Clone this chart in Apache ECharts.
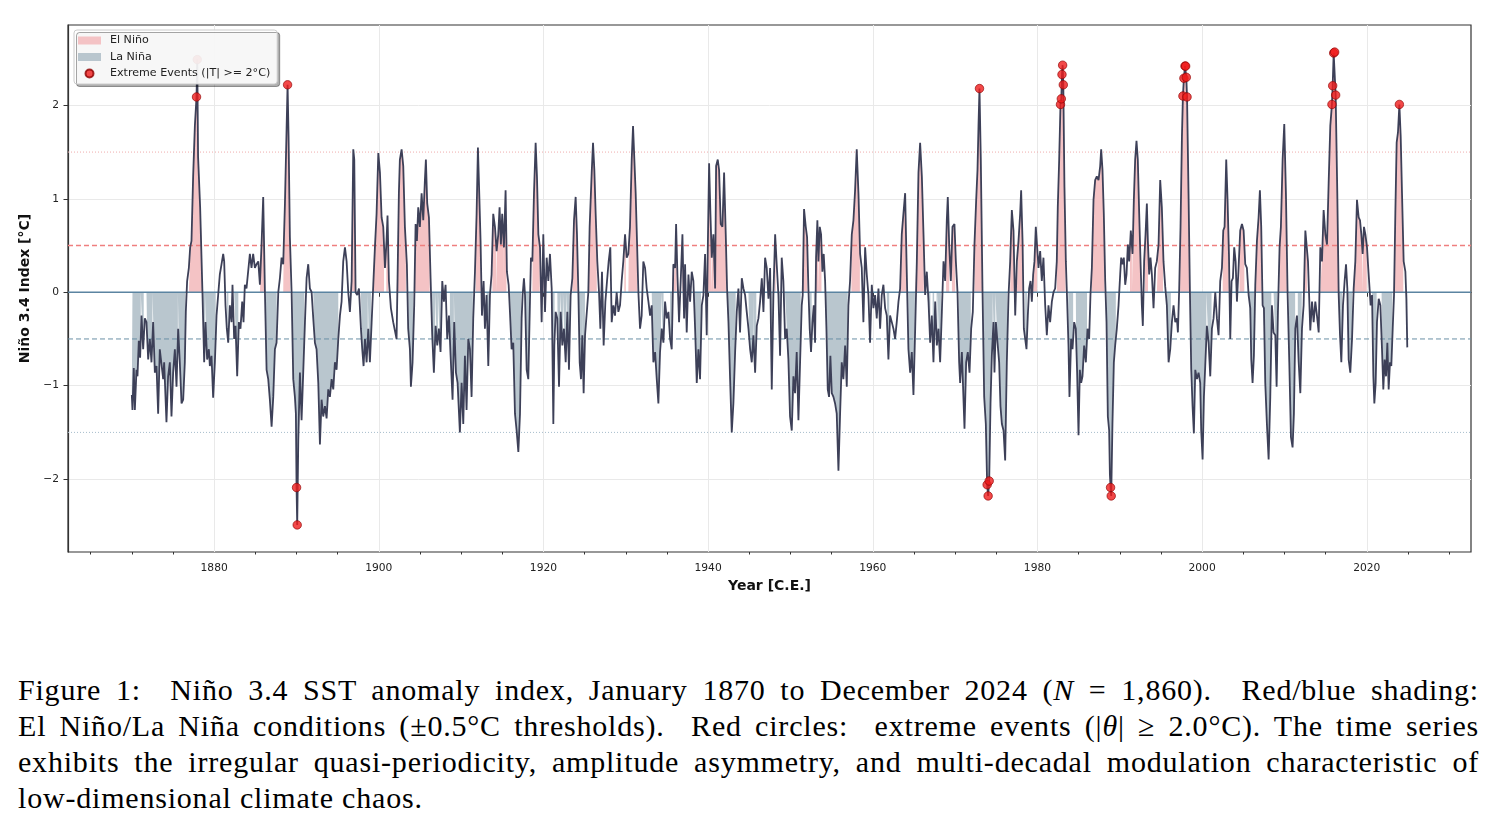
<!DOCTYPE html>
<html>
<head>
<meta charset="utf-8">
<title>Niño 3.4 SST anomaly index</title>
<script src="https://cdn.jsdelivr.net/npm/echarts@6/dist/echarts.min.js"></script>
<style>
  html, body { margin: 0; padding: 0; background: #fff; }
  #wrap { position: relative; width: 1495px; height: 830px; overflow: hidden; }
  #chart { position: absolute; left: 0; top: 0; width: 1495px; height: 620px; }
  #caption { position: absolute; left: 18px; top: 672px; width: 1461px; font-family: 'Liberation Serif', serif; font-size: 30px; letter-spacing: 0.8px; line-height: 36px; color: #000; }
  #caption div { white-space: nowrap; text-align: justify; text-align-last: justify; }
  #caption div.last { text-align-last: left; }
</style>
</head>
<body>
<div id="wrap">
  <div id="chart"></div>
  <div id="caption">
    <div>Figure 1:&nbsp; Niño 3.4 SST anomaly index, January 1870 to December 2024 (<i>N</i> = 1,860).&nbsp; Red/blue shading:</div>
    <div>El Niño/La Niña conditions (±0.5°C thresholds).&nbsp; Red circles:&nbsp; extreme events (|<i>θ</i>| ≥ 2.0°C). The time series</div>
    <div>exhibits the irregular quasi-periodicity, amplitude asymmetry, and multi-decadal modulation characteristic of</div>
    <div class="last">low-dimensional climate chaos.</div>
  </div>
</div>
<script>
// Niño 3.4 anomaly [year, °C] (turning points)
const nino34 = [
  [1870.00,-1.10],[1870.08,-1.26],[1870.24,-0.81],[1870.37,-1.26],[1870.57,-0.83],[1870.69,-0.90],[1870.85,-0.52],[1871.01,-0.70],
  [1871.18,-0.25],[1871.38,-0.61],[1871.58,-0.28],[1871.78,-0.32],[1871.99,-0.72],[1872.19,-0.50],[1872.39,-0.75],[1872.59,-0.32],
  [1872.80,-0.86],[1873.00,-0.79],[1873.20,-1.30],[1873.40,-0.61],[1873.61,-0.61],[1873.81,-0.93],[1873.93,-0.75],[1874.21,-1.39],
  [1874.41,-0.90],[1874.62,-0.75],[1874.82,-1.33],[1875.02,-0.86],[1875.23,-0.61],[1875.43,-1.01],[1875.63,-0.39],[1875.83,-0.75],
  [1876.04,-1.19],[1876.24,-1.15],[1876.44,-0.75],[1876.56,-0.21],[1876.72,0.12],[1876.93,0.26],[1877.09,0.48],[1877.25,0.55],
  [1877.45,1.24],[1877.66,1.78],[1877.86,2.09],[1877.95,2.49],[1878.05,1.45],[1878.30,0.91],[1878.46,0.93],[1878.58,0.00],
  [1878.79,-0.75],[1878.95,-0.32],[1879.15,-0.72],[1879.36,-0.61],[1879.48,-0.79],[1879.68,-0.68],[1879.88,-1.13],[1880.09,-0.75],
  [1880.29,-0.25],[1880.49,-0.03],[1880.69,0.19],[1880.90,0.30],[1881.10,0.41],[1881.22,0.33],[1881.38,-0.14],[1881.54,-0.39],
  [1881.71,-0.54],[1881.91,-0.14],[1882.11,-0.32],[1882.23,0.08],[1882.43,-0.50],[1882.60,-0.36],[1882.80,-0.90],[1883.00,-0.32],
  [1883.20,-0.39],[1883.41,-0.10],[1883.57,-0.32],[1883.73,0.08],[1883.93,0.04],[1884.14,0.04],[1884.34,0.41],[1884.54,0.26],
  [1884.74,0.41],[1884.95,0.26],[1885.15,0.30],[1885.36,0.33],[1885.56,0.08],[1885.76,0.51],[1885.96,1.02],[1886.17,0.00],
  [1886.37,-0.83],[1886.57,-0.93],[1886.77,-1.15],[1886.98,-1.44],[1887.18,-1.12],[1887.38,-0.61],[1887.58,-0.54],[1887.79,0.00],
  [1887.99,0.15],[1888.19,0.37],[1888.39,0.30],[1888.60,0.95],[1888.80,1.75],[1888.92,2.22],[1889.04,1.67],[1889.20,0.59],
  [1889.41,0.00],[1889.61,-0.93],[1889.81,-1.12],[1889.93,-1.30],[1890.01,-2.09],[1890.09,-2.49],[1890.22,-1.59],[1890.42,-0.86],
  [1890.62,-1.37],[1890.82,-0.86],[1891.03,-0.32],[1891.23,0.15],[1891.43,0.30],[1891.63,0.04],[1891.84,0.00],[1892.04,-0.28],
  [1892.24,-0.54],[1892.44,-0.61],[1892.65,-0.97],[1892.85,-1.63],[1893.05,-1.15],[1893.25,-1.33],[1893.46,-1.22],[1893.66,-1.35],
  [1893.86,-1.04],[1894.06,-1.12],[1894.27,-0.93],[1894.47,-1.04],[1894.67,-0.75],[1894.87,-0.83],[1895.08,-0.50],[1895.28,-0.25],
  [1895.48,-0.10],[1895.68,0.33],[1895.89,0.48],[1896.09,0.33],[1896.29,0.00],[1896.49,-0.21],[1896.70,0.12],[1896.90,1.53],
  [1897.02,1.42],[1897.18,0.00],[1897.38,-0.03],[1897.59,0.04],[1897.83,-0.39],[1897.99,-0.61],[1898.15,-0.79],[1898.32,-0.50],
  [1898.52,-0.75],[1898.72,-0.39],[1898.92,-0.75],[1899.13,-0.32],[1899.33,0.08],[1899.53,0.48],[1899.73,0.84],[1899.94,1.49],
  [1900.14,1.28],[1900.34,0.80],[1900.54,0.70],[1900.75,0.26],[1900.94,0.55],[1901.06,0.82],[1901.23,0.12],[1901.47,-0.17],
  [1901.75,-0.32],[1901.96,-0.32],[1902.16,-0.50],[1902.28,0.15],[1902.44,1.06],[1902.56,1.42],[1902.77,1.53],[1902.97,1.35],
  [1903.17,0.70],[1903.41,0.30],[1903.57,-0.39],[1903.78,-0.61],[1903.90,-1.01],[1904.10,-0.75],[1904.30,-0.14],[1904.47,0.73],
  [1904.63,0.55],[1904.79,0.91],[1904.99,0.70],[1905.20,1.06],[1905.40,0.77],[1905.60,1.20],[1905.72,1.42],[1905.88,0.95],
  [1906.09,0.80],[1906.29,0.15],[1906.49,-0.46],[1906.69,-0.86],[1906.90,-0.36],[1907.10,-0.57],[1907.30,-0.39],[1907.50,-0.64],
  [1907.71,0.12],[1907.91,-0.10],[1908.11,0.08],[1908.31,-0.50],[1908.52,-0.25],[1908.72,-0.68],[1908.96,-1.15],[1909.16,-0.32],
  [1909.37,-0.86],[1909.57,-0.97],[1909.85,-1.50],[1910.06,-0.97],[1910.26,-1.41],[1910.46,-0.68],[1910.66,-1.26],[1910.87,-0.50],
  [1911.07,-0.61],[1911.27,-1.12],[1911.47,-0.28],[1911.68,0.22],[1911.88,0.84],[1912.04,1.55],[1912.20,1.06],[1912.36,0.55],
  [1912.53,-0.25],[1912.73,0.12],[1912.89,-0.39],[1913.09,-0.03],[1913.30,-0.79],[1913.50,-0.03],[1913.70,0.19],[1913.90,0.84],
  [1914.11,0.70],[1914.31,0.44],[1914.51,0.62],[1914.67,0.91],[1914.83,0.51],[1914.99,0.84],[1915.20,0.48],[1915.40,1.09],
  [1915.56,0.22],[1915.77,0.08],[1915.93,-0.21],[1916.13,-0.61],[1916.33,-0.54],[1916.54,-1.30],[1916.74,-1.48],[1916.95,-1.71],
  [1917.15,-1.30],[1917.35,-0.28],[1917.47,-0.03],[1917.63,0.15],[1917.76,-0.03],[1917.96,-0.83],[1918.16,-0.93],[1918.36,-0.10],
  [1918.48,0.37],[1918.65,0.33],[1918.85,1.06],[1919.05,1.60],[1919.21,1.24],[1919.38,0.62],[1919.58,0.48],[1919.78,-0.32],
  [1919.98,0.62],[1920.19,-0.21],[1920.39,0.37],[1920.59,0.12],[1920.79,0.41],[1921.00,0.04],[1921.20,-1.41],[1921.32,-0.57],
  [1921.48,-0.21],[1921.68,-0.28],[1921.89,-1.01],[1922.09,-0.21],[1922.29,-0.57],[1922.49,-0.39],[1922.70,-0.75],[1922.90,-0.21],
  [1923.10,-0.83],[1923.30,-0.03],[1923.51,0.15],[1923.71,0.77],[1923.91,1.02],[1924.07,0.62],[1924.24,0.00],[1924.40,-0.75],
  [1924.56,-0.93],[1924.72,-0.46],[1924.88,-1.08],[1925.05,-0.46],[1925.25,-0.46],[1925.45,0.00],[1925.61,0.70],[1925.86,1.28],
  [1926.02,1.60],[1926.18,1.31],[1926.34,0.84],[1926.54,0.33],[1926.75,0.00],[1926.91,-0.39],[1927.11,0.22],[1927.31,-0.57],
  [1927.52,-0.10],[1927.72,0.12],[1927.92,0.33],[1928.12,0.48],[1928.29,-0.32],[1928.49,-0.14],[1928.69,-0.25],[1928.89,0.00],
  [1929.10,-0.21],[1929.30,-0.14],[1929.50,0.12],[1929.70,0.33],[1929.91,0.62],[1930.11,0.37],[1930.31,0.41],[1930.51,0.70],
  [1930.72,1.42],[1930.88,1.78],[1931.04,1.42],[1931.20,1.06],[1931.36,0.55],[1931.53,0.00],[1931.73,-0.39],[1931.93,-0.25],
  [1932.13,0.33],[1932.34,0.26],[1932.54,0.04],[1932.75,-0.10],[1932.95,-0.25],[1933.15,-0.14],[1933.35,-0.75],[1933.56,-0.64],
  [1933.76,-0.93],[1933.96,-1.19],[1934.16,-0.64],[1934.37,-0.39],[1934.57,-0.54],[1934.77,-0.10],[1934.97,-0.28],[1935.18,-0.21],
  [1935.38,-0.50],[1935.58,-0.61],[1935.78,0.30],[1935.99,0.26],[1936.11,0.73],[1936.27,0.19],[1936.47,-0.32],[1936.67,0.12],
  [1936.88,0.62],[1937.08,-0.28],[1937.20,0.30],[1937.40,-0.43],[1937.61,0.19],[1937.81,-0.10],[1938.01,0.22],[1938.21,0.12],
  [1938.42,-0.39],[1938.62,-0.97],[1938.82,-0.61],[1939.02,-0.93],[1939.23,-0.14],[1939.43,-0.03],[1939.63,0.41],[1939.83,-0.46],
  [1939.95,0.41],[1940.12,1.38],[1940.28,0.84],[1940.44,0.37],[1940.64,0.62],[1940.85,0.04],[1940.97,1.35],[1941.17,1.42],
  [1941.33,1.31],[1941.53,0.73],[1941.74,0.70],[1941.94,1.28],[1942.14,0.62],[1942.30,0.04],[1942.47,-0.32],[1942.67,-0.93],
  [1942.87,-1.50],[1943.07,-1.19],[1943.28,-0.64],[1943.48,-0.21],[1943.68,0.04],[1943.88,-0.43],[1944.09,0.15],[1944.29,0.04],
  [1944.49,-0.03],[1944.69,-0.21],[1944.90,-0.39],[1945.10,-0.61],[1945.30,-0.75],[1945.50,-0.46],[1945.71,-0.86],[1945.91,-0.36],
  [1946.11,-0.28],[1946.31,-0.10],[1946.52,0.15],[1946.72,-0.21],[1946.92,0.37],[1947.12,0.26],[1947.33,-0.07],[1947.53,0.26],
  [1947.73,-1.04],[1947.93,-0.03],[1948.14,0.62],[1948.33,0.30],[1948.54,-0.03],[1948.74,-0.68],[1948.94,0.37],[1949.14,0.12],
  [1949.35,-0.50],[1949.55,-0.39],[1949.75,-0.72],[1949.95,-1.33],[1950.16,-1.48],[1950.36,-0.90],[1950.56,-1.08],[1950.76,-0.64],
  [1950.97,-1.37],[1951.17,-0.75],[1951.37,-0.14],[1951.49,-0.03],[1951.65,0.89],[1951.86,0.70],[1952.02,0.59],[1952.18,0.04],
  [1952.34,-0.39],[1952.50,-0.64],[1952.67,-0.32],[1952.83,-0.14],[1952.99,-0.54],[1953.11,0.37],[1953.27,0.77],[1953.40,0.33],
  [1953.56,0.70],[1953.72,0.62],[1953.88,0.22],[1954.04,0.41],[1954.21,0.12],[1954.37,-0.39],[1954.53,-1.04],[1954.69,-1.12],
  [1954.85,-0.68],[1955.02,-1.08],[1955.22,-1.12],[1955.42,-1.19],[1955.62,-1.30],[1955.83,-1.91],[1956.03,-1.30],[1956.23,-0.75],
  [1956.43,-0.93],[1956.64,-0.57],[1956.84,-1.01],[1957.04,-0.14],[1957.24,0.12],[1957.45,0.62],[1957.65,0.77],[1957.85,1.09],
  [1958.05,1.53],[1958.26,1.06],[1958.46,0.41],[1958.66,0.26],[1958.86,-0.32],[1959.07,0.48],[1959.27,0.19],[1959.47,-0.03],
  [1959.67,-0.54],[1959.88,0.08],[1960.08,-0.17],[1960.28,-0.03],[1960.48,-0.28],[1960.69,0.04],[1960.89,-0.39],[1961.09,-0.03],
  [1961.29,0.08],[1961.50,-0.17],[1961.70,-0.25],[1961.90,-0.72],[1962.10,-0.25],[1962.31,-0.32],[1962.51,-0.39],[1962.71,-0.50],
  [1962.91,-0.32],[1963.12,-0.10],[1963.32,0.04],[1963.52,0.62],[1963.72,0.84],[1963.93,1.06],[1964.13,0.20],[1964.33,-0.61],
  [1964.54,-0.86],[1964.74,-0.64],[1964.94,-1.10],[1965.15,-0.39],[1965.35,0.33],[1965.55,1.28],[1965.75,1.60],[1965.96,1.24],
  [1966.16,0.62],[1966.36,-0.03],[1966.56,0.22],[1966.77,-0.10],[1966.97,-0.54],[1967.17,-0.25],[1967.37,-0.75],[1967.58,-0.10],
  [1967.78,-0.57],[1967.98,-0.39],[1968.18,-0.75],[1968.39,-0.21],[1968.59,0.33],[1968.79,0.12],[1968.99,0.77],[1969.11,1.02],
  [1969.28,0.51],[1969.48,0.12],[1969.68,0.70],[1969.92,0.73],[1970.09,0.33],[1970.29,0.00],[1970.49,-0.75],[1970.61,-0.97],
  [1970.82,-0.64],[1971.14,-1.46],[1971.34,-0.75],[1971.54,-0.64],[1971.75,-0.86],[1971.95,-0.39],[1972.15,-0.21],[1972.35,0.51],
  [1972.56,0.99],[1972.72,1.31],[1972.84,1.78],[1972.96,2.18],[1973.12,1.42],[1973.33,0.00],[1973.53,-1.12],[1973.73,-1.41],
  [1973.89,-2.06],[1974.01,-2.18],[1974.14,-2.02],[1974.30,-1.19],[1974.46,-0.68],[1974.66,-0.32],[1974.78,-0.86],[1974.95,-0.32],
  [1975.15,-0.54],[1975.35,-0.75],[1975.51,-1.22],[1975.68,-1.41],[1975.88,-1.48],[1976.08,-1.80],[1976.28,-0.75],[1976.49,-0.03],
  [1976.69,0.33],[1976.89,0.88],[1977.09,0.66],[1977.30,-0.25],[1977.50,0.33],[1977.70,0.55],[1977.90,0.84],[1978.02,1.09],
  [1978.19,0.55],[1978.35,-0.39],[1978.51,-0.50],[1978.67,-0.61],[1978.83,-0.25],[1978.99,0.04],[1979.16,0.12],[1979.32,-0.10],
  [1979.48,0.19],[1979.64,0.33],[1979.80,0.70],[1980.13,0.26],[1980.33,0.44],[1980.53,0.12],[1980.73,0.37],[1980.94,-0.14],
  [1981.14,-0.46],[1981.34,-0.14],[1981.54,-0.32],[1981.75,-0.10],[1981.95,0.00],[1982.15,0.04],[1982.35,0.33],[1982.47,0.91],
  [1982.64,1.42],[1982.80,2.01],[1982.90,2.07],[1982.98,2.33],[1983.06,2.43],[1983.14,2.22],[1983.28,1.13],[1983.45,0.33],
  [1983.61,-0.10],[1983.77,-0.57],[1983.89,-1.12],[1984.09,-0.50],[1984.26,-0.61],[1984.46,-0.32],[1984.66,-0.39],[1984.82,-0.86],
  [1984.99,-1.53],[1985.15,-0.83],[1985.31,-0.97],[1985.47,-0.90],[1985.67,-0.57],[1985.88,-0.75],[1986.08,-0.39],[1986.28,-0.50],
  [1986.44,-0.03],[1986.61,0.26],[1986.81,0.99],[1987.01,1.20],[1987.21,1.24],[1987.42,1.20],[1987.62,1.35],[1987.74,1.53],
  [1987.90,1.31],[1988.06,0.84],[1988.23,0.12],[1988.39,-0.32],[1988.55,-1.33],[1988.71,-1.48],[1988.80,-1.95],[1988.88,-2.09],
  [1988.96,-2.18],[1989.11,-1.41],[1989.28,-0.75],[1989.44,-0.57],[1989.64,-0.39],[1989.85,-0.14],[1990.05,0.19],[1990.17,0.37],
  [1990.33,0.30],[1990.49,0.37],[1990.66,0.08],[1990.82,0.19],[1990.98,0.51],[1991.14,0.33],[1991.34,0.66],[1991.55,0.41],
  [1991.71,0.99],[1991.87,1.42],[1992.03,1.62],[1992.19,1.42],[1992.36,0.84],[1992.52,0.33],[1992.68,-0.14],[1992.80,-0.36],
  [1992.96,0.33],[1993.13,0.62],[1993.29,0.95],[1993.41,0.55],[1993.57,0.19],[1993.73,0.37],[1993.90,0.19],[1994.10,-0.17],
  [1994.30,0.26],[1994.50,0.33],[1994.71,0.51],[1994.91,1.20],[1995.11,0.91],[1995.31,0.33],[1995.52,0.06],[1995.72,-0.14],
  [1995.93,-0.75],[1996.13,-0.61],[1996.33,-0.32],[1996.53,-0.14],[1996.74,-0.32],[1996.94,-0.28],[1997.06,-0.43],[1997.22,0.04],
  [1997.38,0.70],[1997.55,1.67],[1997.67,2.10],[1997.79,2.29],[1997.92,2.42],[1998.00,2.42],[1998.08,2.30],[1998.17,2.09],
  [1998.35,1.06],[1998.52,0.00],[1998.68,-0.83],[1998.84,-1.22],[1999.00,-1.51],[1999.17,-0.83],[1999.37,-0.93],[1999.57,-0.86],
  [1999.77,-0.97],[1999.89,-1.48],[2000.06,-1.79],[2000.22,-1.12],[2000.38,-0.79],[2000.58,-0.36],[2000.79,-0.54],[2000.99,-0.90],
  [2001.19,-0.39],[2001.39,-0.28],[2001.60,0.00],[2001.80,-0.28],[2002.00,-0.46],[2002.20,0.12],[2002.41,0.26],[2002.57,0.66],
  [2002.73,0.70],[2002.93,1.42],[2003.09,0.99],[2003.26,0.41],[2003.42,-0.50],[2003.58,0.12],[2003.74,0.15],[2003.90,0.48],
  [2004.07,0.33],[2004.23,-0.10],[2004.43,0.26],[2004.63,0.66],[2004.84,0.73],[2005.04,0.66],[2005.24,0.30],[2005.44,0.26],
  [2005.65,-0.03],[2005.85,-0.17],[2005.97,-0.72],[2006.13,-0.97],[2006.29,-0.68],[2006.46,0.08],[2006.66,0.55],[2006.86,0.80],
  [2007.02,1.09],[2007.18,0.70],[2007.35,-0.14],[2007.51,-0.17],[2007.67,-0.97],[2007.87,-1.41],[2008.08,-1.79],[2008.28,-1.12],
  [2008.48,-0.14],[2008.68,-0.43],[2008.89,-0.46],[2009.05,-1.01],[2009.21,-0.21],[2009.41,0.48],[2009.57,0.70],[2009.78,1.42],
  [2009.98,1.80],[2010.18,1.06],[2010.38,0.00],[2010.59,-0.75],[2010.79,-1.55],[2010.99,-1.66],[2011.15,-1.30],[2011.32,-0.39],
  [2011.52,-0.25],[2011.73,-0.75],[2011.93,-1.08],[2012.13,-0.39],[2012.33,-0.14],[2012.54,0.66],[2012.66,0.67],[2012.86,0.33],
  [2013.14,-0.41],[2013.35,-0.10],[2013.55,-0.32],[2013.75,-0.10],[2013.95,-0.25],[2014.16,-0.43],[2014.36,0.48],[2014.56,0.33],
  [2014.76,0.88],[2014.97,0.62],[2015.17,0.51],[2015.37,1.17],[2015.57,1.78],[2015.77,2.01],[2015.86,2.21],[2015.98,2.56],
  [2016.10,2.57],[2016.22,2.11],[2016.42,1.06],[2016.59,-0.03],[2016.75,-0.46],[2016.91,-0.75],[2017.11,-0.14],[2017.31,0.12],
  [2017.48,0.30],[2017.64,0.04],[2017.80,-0.72],[2018.00,-0.86],[2018.21,-0.50],[2018.41,0.04],[2018.61,0.33],[2018.81,0.99],
  [2019.02,0.80],[2019.18,0.77],[2019.34,0.62],[2019.50,0.41],[2019.66,0.70],[2019.83,0.62],[2020.03,0.48],[2020.15,0.30],
  [2020.31,0.08],[2020.47,-0.14],[2020.64,-0.03],[2020.80,-0.90],[2020.92,-1.19],[2021.08,-0.97],[2021.24,-0.32],[2021.45,-0.07],
  [2021.65,-0.14],[2021.85,-0.61],[2022.01,-1.04],[2022.17,-0.72],[2022.34,-0.90],[2022.50,-0.54],[2022.66,-1.04],[2022.82,-0.75],
  [2022.98,-0.79],[2023.15,-0.39],[2023.31,-0.03],[2023.47,0.84],[2023.63,1.60],[2023.79,1.71],[2023.96,2.01],[2024.12,1.67],
  [2024.28,1.06],[2024.48,0.33],[2024.69,0.22],[2024.81,-0.07],[2024.92,-0.59]
];

const xTicks = [1880, 1900, 1920, 1940, 1960, 1980, 2000, 2020];
const xMinorTicks = [1865, 1870, 1875, 1885, 1890, 1895, 1905, 1910, 1915, 1925, 1930, 1935, 1945, 1950, 1955,
  1965, 1970, 1975, 1985, 1990, 1995, 2005, 2010, 2015, 2025, 2030];
const yTicks = [-2, -1, 0, 1, 2];
const xRange = [1862.25, 2032.66];

const elNinoLevel = 0.5;
const laNinaLevel = -0.5;
const strongLevel = 1.5;
const extremeLevel = 2.0;
const extremeName = 'Extreme Events (|T| >= 2°C)';

// area between 0 and the curve where the curve is beyond a threshold
const thresholdFill = (data, level, above) => {
    const inside = v => above ? v >= level : v <= level;
    const out = [];
    data.forEach(([t, v], i) => {
        if (i > 0) {
            const [t0, v0] = data[i - 1];
            if (inside(v0) !== inside(v)) {
                const tc = t0 + (level - v0) / (v - v0) * (t - t0);
                if (inside(v)) out.push([tc, 0], [tc, level]);
                else out.push([tc, level], [tc, 0]);
            }
        }
        out.push([t, inside(v) ? v : 0]);
    });
    return out;
};

// horizontal reference line spanning the whole x range
const refLine = (name, y, color, width, type) => ({
    name, type: 'line', data: [[xRange[0], y], [xRange[1], y]],
    symbol: 'none', silent: true, z: 3,
    lineStyle: { color, width, type },
    emphasis: { disabled: true }
});

const extremes = nino34.filter(p => Math.abs(p[1]) >= extremeLevel);

const font = 'DejaVu Sans';
const chart = echarts.init(document.getElementById('chart'));

chart.setOption({
    animation: false,
    grid: {
        left: 68, right: 24, top: 25, bottom: 68,
        show: true, borderColor: '#333', borderWidth: 1.2, backgroundColor: 'transparent'
    },
    legend: {
        data: [
            { name: 'El Niño', icon: 'rect', itemStyle: { borderWidth: 0 } },
            { name: 'La Niña', icon: 'rect', itemStyle: { borderWidth: 0 } },
            { name: extremeName, icon: 'circle' }
        ],
        orient: 'vertical', left: 74, top: 30,
        padding: [5, 7, 5, 4],
        itemWidth: 23, itemHeight: 8, itemGap: 5.5,
        backgroundColor: 'rgba(255,255,255,0.9)', borderColor: '#cccccc', borderWidth: 1, borderRadius: 3,
        shadowColor: 'rgba(0,0,0,0.35)', shadowBlur: 0, shadowOffsetX: 2.5, shadowOffsetY: 2.5,
        textStyle: { fontFamily: font, fontSize: 11.1, color: '#222', padding: [0, 0, 0, 4] },
        selectedMode: false, z: 10
    },
    xAxis: [
        {
            type: 'value', min: xRange[0], max: xRange[1], position: 'bottom',
            axisLine: { show: true, lineStyle: { color: '#333', width: 1.2 } },
            axisTick: { show: true, customValues: xTicks, length: 4.5, lineStyle: { color: '#333' } },
            axisLabel: {
                customValues: xTicks, fontFamily: font, fontSize: 10.7, color: '#222', margin: 11,
                formatter: v => String(v)
            },
            splitLine: { show: false },
            name: 'Year [C.E.]', nameLocation: 'middle', nameGap: 26,
            nameTextStyle: { fontFamily: font, fontSize: 14, fontWeight: 'bold', color: '#111' }
        },
        {
            type: 'value', min: xRange[0], max: xRange[1], position: 'bottom',
            axisLine: { show: false },
            axisTick: { show: true, customValues: xMinorTicks, length: 2.5, lineStyle: { color: '#333' } },
            axisLabel: { show: false },
            splitLine: { show: false }
        }
    ],
    yAxis: {
        type: 'value', min: -2.78, max: 2.86,
        axisLine: { show: true, lineStyle: { color: '#333', width: 1.2 } },
        axisTick: { show: true, customValues: yTicks, length: 4.5, lineStyle: { color: '#333' } },
        axisLabel: {
            customValues: yTicks, fontFamily: font, fontSize: 10.7, color: '#222', margin: 9,
            formatter: v => (v < 0 ? '\u2212' + Math.abs(v) : String(v))
        },
        splitLine: { show: false },
        name: 'Niño 3.4 Index [°C]', nameLocation: 'middle', nameGap: 30, nameRotate: 90,
        nameTextStyle: { fontFamily: font, fontSize: 14, fontWeight: 'bold', color: '#111' }
    },
    series: [
        {
            name: 'grid', type: 'line', data: [], silent: true,
            markLine: {
                z: 0, silent: true, symbol: 'none', label: { show: false },
                lineStyle: { color: '#e9e9e9', width: 1, type: 'solid' },
                data: xTicks.map(x => ({ xAxis: x })).concat(yTicks.filter(y => y !== 0).map(y => ({ yAxis: y })))
            }
        },
        {
            name: 'El Niño', type: 'line', data: thresholdFill(nino34, elNinoLevel, true),
            symbol: 'none', silent: true, z: 2,
            lineStyle: { width: 0, opacity: 0 },
            itemStyle: { color: '#f4c3c5' },
            areaStyle: { color: '#f4c3c5', opacity: 1, origin: 0 }
        },
        {
            name: 'La Niña', type: 'line', data: thresholdFill(nino34, laNinaLevel, false),
            symbol: 'none', silent: true, z: 2,
            lineStyle: { width: 0, opacity: 0 },
            itemStyle: { color: '#b9c6ce' },
            areaStyle: { color: '#b9c6ce', opacity: 1, origin: 0 }
        },
        refLine('zero', 0, '#5b84a1', 1.4, 'solid'),
        refLine('warm threshold', elNinoLevel, '#ef7f7f', 1.4, [5, 3]),
        refLine('cold threshold', laNinaLevel, '#6a8fa6', 1, [5, 3]),
        refLine('strong warm', strongLevel, '#efacac', 1, [1, 2]),
        refLine('strong cold', -strongLevel, '#a6bccb', 1, [1, 2]),
        {
            name: 'Niño 3.4', type: 'line', data: nino34,
            symbol: 'none', silent: true, z: 4,
            lineStyle: { color: '#3d4058', width: 1.8 }
        },
        {
            name: extremeName, type: 'scatter', data: extremes,
            symbol: 'circle', symbolSize: 8.5, silent: true, z: 5,
            itemStyle: { color: '#f01c1c', borderColor: '#8b0000', borderWidth: 0.8 }
        }
    ]
});
window.addEventListener('resize', () => chart.resize());
</script>
</body>
</html>
